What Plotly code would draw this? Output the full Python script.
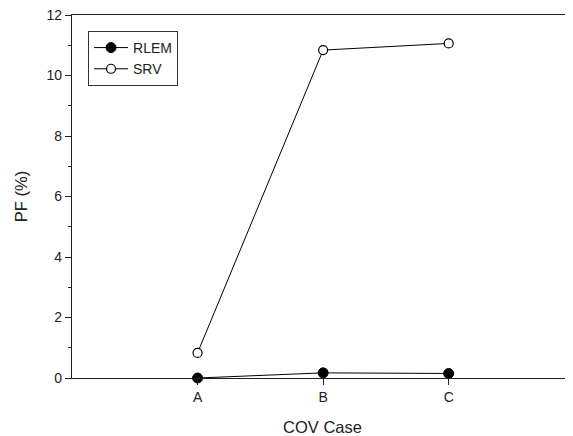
import plotly.graph_objects as go

categories = ["A", "B", "C"]
cat_pos = [1, 2, 3]
rlem = [0.0, 0.17, 0.15]
srv = [0.83, 10.84, 11.06]

fig = go.Figure()
fig.add_trace(go.Scatter(
    x=cat_pos, y=rlem, name="RLEM", mode="lines+markers",
    line=dict(color="black", width=1),
    marker=dict(symbol="circle", size=10, color="black", line=dict(color="black", width=1)),
    cliponaxis=False,
))
fig.add_trace(go.Scatter(
    x=cat_pos, y=srv, name="SRV", mode="lines+markers",
    line=dict(color="black", width=1),
    marker=dict(symbol="circle", size=9, color="white", line=dict(color="black", width=1.2)),
    cliponaxis=False,
))

# the page body has an 8px margin, so the figure is sized and offset accordingly
fig.update_layout(
    width=565, height=428,
    margin=dict(l=64, r=0, t=7, b=58, autoexpand=False),
    paper_bgcolor="white", plot_bgcolor="white",
    font=dict(family="Liberation Sans, Arial, sans-serif", size=14, color="#222"),
    showlegend=True,
    legend=dict(
        x=0.032, y=0.956, xanchor="left", yanchor="top",
        bordercolor="#333", borderwidth=1, bgcolor="white",
        font=dict(size=14), tracegroupgap=0, itemwidth=34,
    ),
    xaxis=dict(
        range=[0, 3.99], tickmode="array", tickvals=cat_pos, ticktext=categories,
        showgrid=False, zeroline=False, showline=True, linecolor="#222", linewidth=1.2,
        mirror=True, ticks="outside", ticklen=6, tickcolor="#222",
        title=dict(text="COV Case", font=dict(size=16.5), standoff=17),
        automargin=False,
    ),
    yaxis=dict(
        range=[0, 12], tickmode="array", tickvals=[0, 2, 4, 6, 8, 10, 12],
        showgrid=False, zeroline=False, showline=True, linecolor="#222", linewidth=1.2,
        mirror=True, ticks="outside", ticklen=6, tickcolor="#222",
        ticklabeloverflow="allow",
        minor=dict(tickvals=[1, 3, 5, 7, 9, 11], ticks="outside", ticklen=3, tickcolor="#222"),
        title=dict(text="PF (%)", font=dict(size=16.5), standoff=14),
        automargin=False,
    ),
)

fig.write_html("out.html")
